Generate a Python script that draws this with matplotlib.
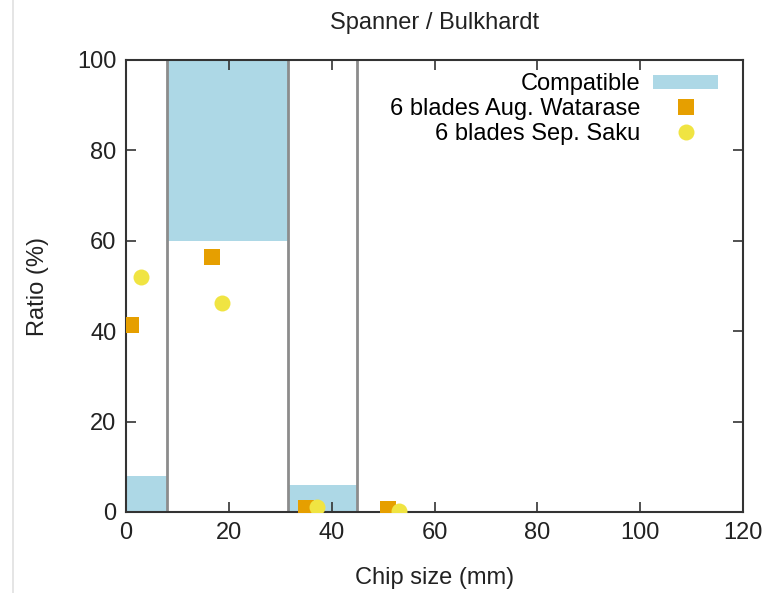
import matplotlib
matplotlib.use('Agg')
import matplotlib.pyplot as plt
from matplotlib.lines import Line2D

plt.rcParams['font.family'] = ['Liberation Sans', 'DejaVu Sans']

# compatible ranges (chip size interval, ratio interval)
compat_left = [0, 8, 31.5]
compat_right = [8, 31.5, 45]
compat_bottom = [0, 60, 0]
compat_top = [8, 100, 6]
boundaries = [8, 31.5, 45]

# measured samples
aug_size = [1.0, 16.7, 35.0, 51.0]
aug_ratio = [41.3, 56.5, 0.9, 0.7]
sep_size = [3.0, 18.7, 37.2, 53.0]
sep_ratio = [52.1, 46.3, 1.2, 0.2]

FS = 17
TXT = '#222222'

fig = plt.figure(figsize=(7.82, 5.93), dpi=100)
ax = fig.add_axes([126/782, 81/593, 617/782, 452/593])

widths = [r - l for l, r in zip(compat_left, compat_right)]
heights = [t - b for b, t in zip(compat_bottom, compat_top)]
bars = ax.bar(compat_left, heights, width=widths, bottom=compat_bottom, align='edge',
              color='#add8e6', linewidth=0, label='Compatible', zorder=1)
for b in boundaries:
    ax.axvline(b, color='#8c8c8c', lw=2, zorder=2)

sq, = ax.plot(aug_size, aug_ratio, 's', color='#e69f00', ms=11, mew=0,
              label='6 blades Aug. Watarase', zorder=3)
ci, = ax.plot(sep_size, sep_ratio, 'o', color='#f0e442', ms=11.5, mew=0,
              label='6 blades Sep. Saku', zorder=4)

ax.set_xlim(0, 120)
ax.set_ylim(0, 100)
ax.set_xticks(range(0, 121, 20))
ax.set_yticks(range(0, 101, 20))
ax.tick_params(direction='in', length=7, width=1.2, color='#333333',
               top=True, right=True, labelsize=FS, pad=7, labelcolor=TXT)
for s in ax.spines.values():
    s.set_linewidth(1.5)
    s.set_color('#333333')

ax.set_xlabel('Chip size (mm)', fontsize=FS, color=TXT, labelpad=17)
ax.set_ylabel('Ratio (%)', fontsize=FS, color=TXT, labelpad=20)
ax.set_title('Spanner / Bulkhardt', fontsize=FS, color=TXT, pad=22)

ax.legend(handles=[bars, sq, ci], loc='upper right',
          bbox_to_anchor=(718/782, (593-73)/593),
          bbox_transform=fig.transFigure, frameon=False, markerfirst=False,
          fontsize=FS, handlelength=2.75, handleheight=0.55, handletextpad=0.55,
          labelspacing=0.12, borderpad=0, borderaxespad=0)

# thin page edge on the left
fig.add_artist(Line2D([13/782, 13/782], [0, 1], color='#e0e0e0', lw=1.2))

fig.savefig('out.png', dpi=100)
